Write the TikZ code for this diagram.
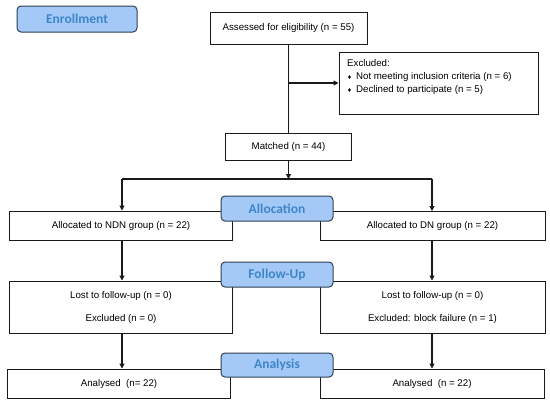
\documentclass[tikz,border=0pt]{standalone}
\usepackage{fontspec}
\setmainfont{Liberation Sans}
\newfontfamily\labfont{Carlito}
\newfontfamily\symfont{DejaVu Sans}
\usetikzlibrary{arrows.meta}
\definecolor{labfill}{HTML}{A4C9F7}
\definecolor{labtext}{HTML}{3F86C8}
\definecolor{labedge}{HTML}{2F3F55}
\definecolor{lineclr}{HTML}{1A1A1A}
\begin{document}
\begin{tikzpicture}[x=1pt,y=-1pt,
  box/.style={draw=lineclr, line width=1pt, fill=white, inner sep=0pt, font=\fontsize{9.7}{11}\selectfont, align=center},
  stage/.style={draw=labedge, line width=1pt, fill=labfill, rounded corners=4pt, inner sep=0pt,
     font=\labfont\bfseries\fontsize{13.5}{15}\selectfont, text=labtext, minimum width=112pt},
  conn/.style={draw=lineclr, line width=1.1pt},
  arr/.style={conn, -{Triangle[length=5pt,width=5pt]}}]
\useasboundingbox (0,0) rectangle (550,405);
\fill[white] (0,0) rectangle (550,405);

\node[stage, minimum width=120pt, minimum height=26pt] (enr) at (77,19) {Enrollment};

\node[box, minimum width=157pt, minimum height=32pt] (ass) at (288.5,28) {Assessed for eligibility (n = 55)};
\node[box, minimum width=199pt, minimum height=62pt] (exc) at (438.5,83) {};
\node[anchor=north west, inner sep=0pt, font=\fontsize{9.7}{13}\selectfont, align=left] (exct) at (347,59)
  {Excluded:\\
   {\symfont\fontsize{5.5}{6}\selectfont ♦}\hspace{4pt}Not meeting inclusion criteria (n = 6)\\
   {\symfont\fontsize{5.5}{6}\selectfont ♦}\hspace{4pt}Declined to participate (n = 5)};
\node[box, minimum width=126pt, minimum height=27pt] (mat) at (288.5,146.5) {Matched (n = 44)};

\node[box, minimum width=223pt, minimum height=29pt] (ndn) at (121,225.5) {Allocated to NDN group (n = 22)};
\node[box, minimum width=225pt, minimum height=29pt] (dn) at (432.5,226) {Allocated to DN group (n = 22)};

\node[box, minimum width=223pt, minimum height=52pt] (fl) at (121,307) {Lost to follow-up (n = 0)\\[12pt]Excluded (n = 0)};
\node[box, minimum width=225pt, minimum height=52pt] (fr) at (432.5,307) {Lost to follow-up (n = 0)\\[12pt]Excluded: block failure (n = 1)};

\node[box, minimum width=223pt, minimum height=29pt] (al) at (119,383.5) {Analysed\ \ (n= 22)};
\node[box, minimum width=224pt, minimum height=29pt] (ar) at (432,383.5) {Analysed\ \ (n = 22)};

\coordinate (br) at (ass.south |- exc.west);
\coordinate (sp) at (mat.south |- 0,179);
\coordinate (spl) at (122,179);
\coordinate (spr) at (432,179);

\draw[conn] (ass.south) -- (mat.north);
\draw[arr] (br) -- (exc.west);
\draw[arr] (mat.south) -- (sp);
\draw[conn] (spl) -- (spr);
\draw[arr] (spl) -- (spl |- ndn.north);
\draw[arr] (spr) -- (spr |- dn.north);
\draw[arr] (ndn.south -| spl) -- (spl |- fl.north);
\draw[arr] (dn.south -| spr) -- (spr |- fr.north);
\draw[arr] (fl.south -| spl) -- (spl |- al.north);
\draw[arr] (fr.south -| spr) -- (spr |- ar.north);

\node[stage, minimum height=25pt] (alloc) at (277,208.5) {Allocation};
\node[stage, minimum height=25pt] (fu) at (277,274.5) {Follow-Up};
\node[stage, minimum height=24pt] (ana) at (277,365) {Analysis};
\end{tikzpicture}
\end{document}
